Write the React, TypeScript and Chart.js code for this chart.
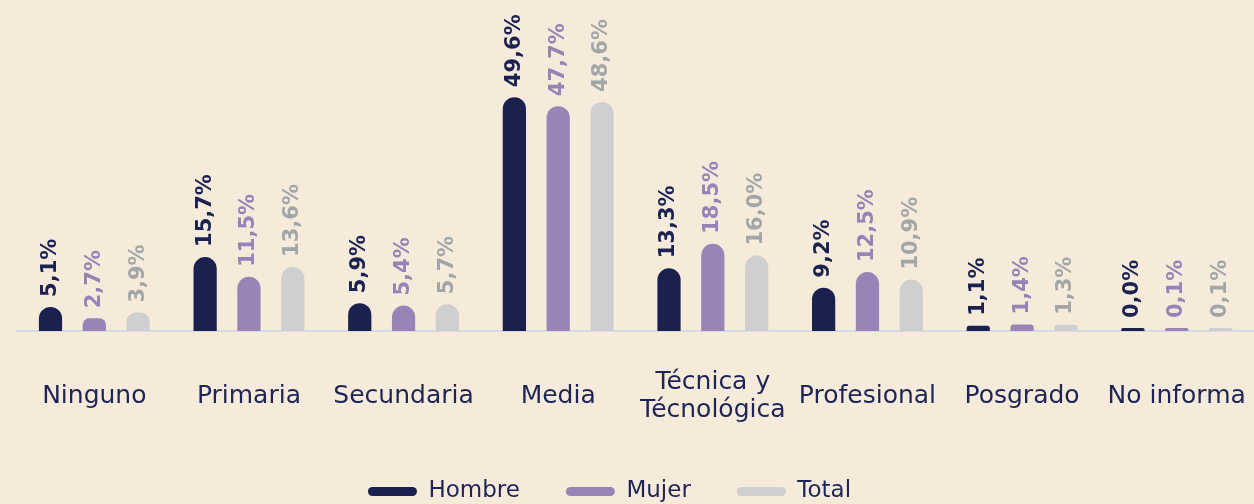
import React, { useEffect, useRef } from "react";
import { Chart, registerables } from "chart.js";

Chart.register(...registerables);

const categories: (string | string[])[] = [
  "Ninguno",
  "Primaria",
  "Secundaria",
  "Media",
  ["Técnica y", "Técnológica"],
  "Profesional",
  "Posgrado",
  "No informa",
];
const hombre = [5.1, 15.7, 5.9, 49.6, 13.3, 9.2, 1.1, 0.0];
const mujer = [2.7, 11.5, 5.4, 47.7, 18.5, 12.5, 1.4, 0.1];
const total = [3.9, 13.6, 5.7, 48.6, 16.0, 10.9, 1.3, 0.1];
const seriesNames = ["Hombre", "Mujer", "Total"];

const BG = "#f6eadb";
const barColors = ["#1a214f", "#9a83b7", "#cfcfcf"];
const labelColors = ["#1b2150", "#9982b6", "#a3a6a6"];
const TEXT = "#1e2455";

const fmt = (v: number) => v.toFixed(1).replace(".", ",") + "%";

const bgPlugin = {
  id: "bg",
  beforeDraw(chart: any) {
    const { ctx, width, height } = chart;
    ctx.save();
    ctx.fillStyle = BG;
    ctx.fillRect(0, 0, width, height);
    ctx.restore();
  },
};

const legendShift = {
  id: "legendShift",
  afterLayout(chart: any) {
    const l = chart.legend;
    if (l) {
      l.top -= 4;
      l.bottom -= 4;
      l.left -= 26;
      l.right -= 26;
    }
  },
};

const valueLabels = {
  id: "valueLabels",
  afterDatasetsDraw(chart: any) {
    const { ctx } = chart;
    ctx.save();
    ctx.font = 'bold 21px "DejaVu Sans"';
    ctx.textAlign = "left";
    ctx.textBaseline = "middle";
    chart.data.datasets.forEach((ds: any, di: number) => {
      const meta = chart.getDatasetMeta(di);
      ctx.fillStyle = labelColors[di];
      meta.data.forEach((el: any, i: number) => {
        const v = ds.data[i];
        ctx.save();
        ctx.translate(el.x, Math.min(el.y, el.base) - 10);
        ctx.rotate(-Math.PI / 2);
        ctx.fillText(fmt(v), 0, 0);
        ctx.restore();
      });
    });
    ctx.restore();
  },
};

export default function App() {
  const ref = useRef<HTMLCanvasElement>(null);
  useEffect(() => {
    if (!ref.current) return;
    const mk = (i: number, data: number[]) => ({
      label: seriesNames[i],
      data,
      backgroundColor: barColors[i],
      borderColor: barColors[i],
      borderWidth: 0,
      borderRadius: 12,
      minBarLength: 3,
      barPercentage: 0.53,
      categoryPercentage: 0.85,
    });
    const chart = new Chart(ref.current, {
      type: "bar",
      data: {
        labels: categories,
        datasets: [mk(0, hombre), mk(1, mujer), mk(2, total)],
      },
      options: {
        animation: false,
        responsive: false,
        layout: { padding: { top: 1, left: 17, right: 0, bottom: -13 } },
        scales: {
          x: {
            grid: { display: false, drawTicks: true, tickLength: 51 },
            border: { display: true, color: "#d6dbe0", width: 2 },
            ticks: {
              color: TEXT,
              font: { family: '"DejaVu Sans"', size: 25, lineHeight: 1.12 },
              padding: 0,
              autoSkip: false,
              maxRotation: 0,
              minRotation: 0,
              crossAlign: "center",
            },
          },
          y: { display: false, min: 0, max: 70 },
        },
        plugins: {
          tooltip: { enabled: false },
          legend: {
            position: "bottom",
            labels: {
              color: TEXT,
              font: { family: '"DejaVu Sans"', size: 23 },
              boxWidth: 49,
              boxHeight: 9,
              useBorderRadius: true,
              borderRadius: 4.5,
              padding: 46,
            },
          },
        },
      },
      plugins: [bgPlugin, legendShift, valueLabels],
    } as any);
    return () => chart.destroy();
  }, []);
  return (
    <div style={{ position: "fixed", left: 0, top: 0, width: 1254, height: 504, background: BG }}>
      <canvas ref={ref} width={1254} height={504} style={{ display: "block" }} />
    </div>
  );
}
